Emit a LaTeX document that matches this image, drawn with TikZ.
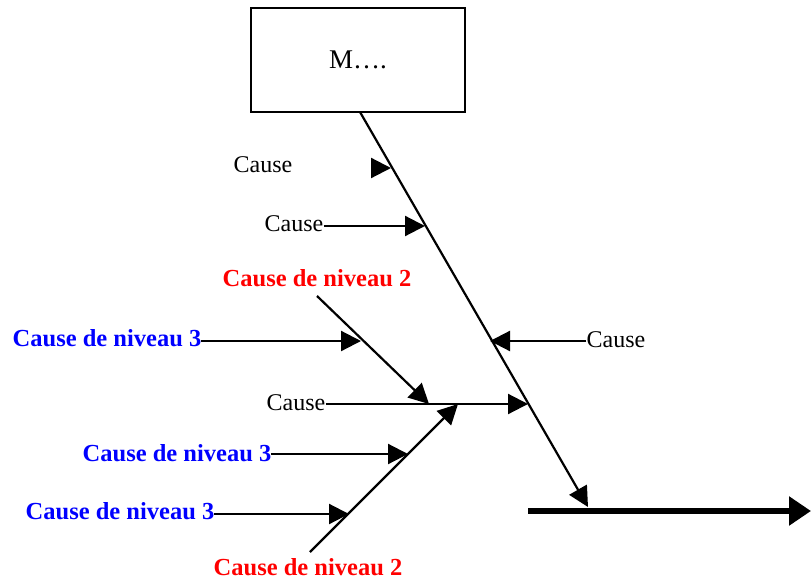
\documentclass[tikz,border=0pt]{standalone}
\usepackage{fontspec}
\setmainfont{Liberation Serif}
\usetikzlibrary{arrows.meta}
\begin{document}
\begin{tikzpicture}[x=1pt,y=-1pt,
  arr/.style={line width=2.2pt,-{Triangle[length=20pt,width=20pt]}},
  thick arr/.style={line width=6pt,-{Triangle[length=22pt,width=28pt]}},
  plain/.style={font=\fontsize{24}{28}\selectfont,inner sep=0pt},
  lvltwo/.style={font=\fontsize{24.5}{28}\selectfont\bfseries,text=red,inner sep=0pt},
  lvlthree/.style={font=\fontsize{24.5}{28}\selectfont\bfseries,text=blue,inner sep=0pt}]
\useasboundingbox (0,0) rectangle (811,581);
\node[draw,line width=2pt,minimum width=214pt,minimum height=104pt,font=\fontsize{27}{30}\selectfont] (box) at (358,60) {M\ldots.};
% spine
\coordinate (sp0) at (360,112);
\coordinate (sp1) at (588,507);
\draw[arr] (sp0) -- (sp1);
% main effect arrow
\coordinate (m0) at (528,511);
\coordinate (m1) at (811,511);
\draw[thick arr] (m0) -- (m1);
% causes
\node[plain] (c1) at (263,165) {Cause};
\coordinate (t1s) at (376,168);
\coordinate (t1) at (391,168);
\draw[arr] (t1s) -- (t1);
\node[plain] (c2) at (294,224) {Cause};
\coordinate (t2) at (425,226);
\draw[arr] (c2.east |- t2) -- (t2);
\node[plain] (c3) at (616,340) {Cause};
\coordinate (t3) at (490,341);
\draw[arr] (c3.west |- t3) -- (t3);
\node[plain] (c4) at (296,403) {Cause};
\coordinate (t4) at (528,404);
\draw[arr] (c4.east |- t4) -- (t4);
% level 2
\node[lvltwo] (r1) at (317,278) {Cause de niveau 2};
\coordinate (s8) at (317,296);
\coordinate (t8) at (429,404);
\draw[arr] (s8) -- (t8);
\node[lvltwo] (r2) at (308,567) {Cause de niveau 2};
\coordinate (s9) at (310,552);
\coordinate (t9) at (458,404);
\draw[arr] (s9) -- (t9);
% level 3
\node[lvlthree] (b1) at (107,338) {Cause de niveau 3};
\coordinate (t5) at (361,341);
\draw[arr] (b1.east |- t5) -- (t5);
\node[lvlthree] (b2) at (177,453) {Cause de niveau 3};
\coordinate (t6) at (408,454);
\draw[arr] (b2.east |- t6) -- (t6);
\node[lvlthree] (b3) at (120,511) {Cause de niveau 3};
\coordinate (t7) at (349,514);
\draw[arr] (b3.east |- t7) -- (t7);
\end{tikzpicture}
\end{document}
